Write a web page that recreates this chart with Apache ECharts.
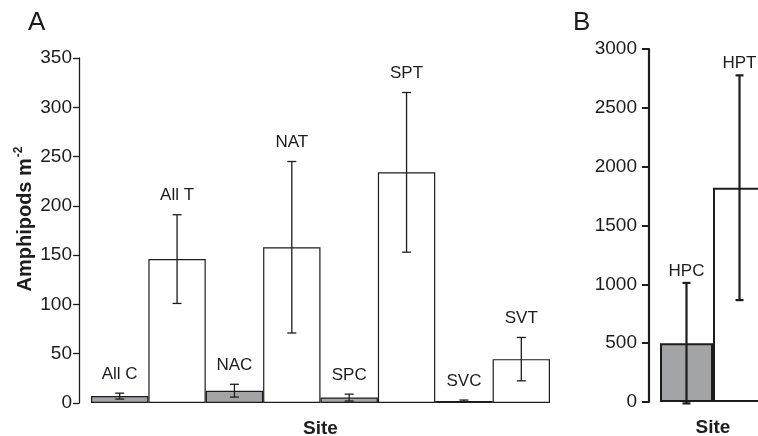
<!DOCTYPE html>
<html>
<head>
<meta charset="utf-8">
<script src="https://cdn.jsdelivr.net/npm/echarts@6/dist/echarts.min.js"></script>
<style>
  html, body { margin: 0; padding: 0; background: #fff; }
  #chart { width: 758px; height: 436px; }
</style>
</head>
<body>
<div id="chart"></div>
<script>
// Panel A: amphipod density by site (C = control, T = treatment)
const sitesA = ['All C', 'All T', 'NAC', 'NAT', 'SPC', 'SPT', 'SVC', 'SVT'];
const meansA = [7, 146, 12.5, 158, 5.5, 234, 2, 44.5];
const errorsA = [3, 45, 6.5, 87, 3.5, 81, 1, 22];
const ticksA = [0, 50, 100, 150, 200, 250, 300, 350];

// Panel B
const sitesB = ['HPC', 'HPT'];
const meansB = [500, 1821];
const errorsB = [512, 955];
const ticksB = [0, 500, 1000, 1500, 2000, 2500, 3000];

const FONT = '"Liberation Sans", Arial, Helvetica, sans-serif';
const INK = '#1c1c1c';
const GREY = '#a2a5a7';

function barItems(sites, means) {
  return means.map((v, i) => ({
    value: v,
    itemStyle: { color: sites[i].endsWith('C') ? GREY : '#ffffff' }
  }));
}

function errorRows(sites, means, errors) {
  return means.map((v, i) => [i, v, errors[i], sites[i]]);
}

function errorRenderer(capHalf, lineW, labelGap) {
  return function (params, api) {
    const x = api.value(0);
    const mean = api.value(1);
    const err = api.value(2);
    const top = api.coord([x, mean + err]);
    const bot = api.coord([x, mean - err]);
    const cx = top[0];
    const style = { stroke: INK, lineWidth: lineW };
    return {
      type: 'group',
      children: [
        { type: 'line', shape: { x1: cx, y1: top[1], x2: cx, y2: bot[1] }, style },
        { type: 'line', shape: { x1: cx - capHalf, y1: top[1], x2: cx + capHalf, y2: top[1] }, style },
        { type: 'line', shape: { x1: cx - capHalf, y1: bot[1], x2: cx + capHalf, y2: bot[1] }, style },
        {
          type: 'text',
          style: {
            x: cx, y: top[1] - labelGap,
            text: api.value(3),
            textAlign: 'center', textVerticalAlign: 'middle',
            font: '17px ' + FONT, fill: INK
          }
        }
      ]
    };
  };
}

const plain = v => String(v);

const chart = echarts.init(document.getElementById('chart'), null, { renderer: 'canvas' });

chart.setOption({
  animation: false,
  backgroundColor: '#ffffff',
  grid: [
    { left: 91, width: 459, top: 58, bottom: 33, outerBoundsMode: 'none', containLabel: false },
    { left: 660, width: 106, top: 49, bottom: 34, outerBoundsMode: 'none', containLabel: false }
  ],
  xAxis: [
    {
      gridIndex: 0, type: 'category', data: sitesA,
      axisLine: { show: false }, axisTick: { show: false }, axisLabel: { show: false },
      name: 'Site', nameLocation: 'middle', nameGap: 16,
      nameTextStyle: { fontFamily: FONT, fontSize: 19, fontWeight: 'bold', color: INK }
    },
    {
      gridIndex: 1, type: 'category', data: sitesB,
      axisLine: { show: false }, axisTick: { show: false }, axisLabel: { show: false },
      name: 'Site', nameLocation: 'middle', nameGap: 16,
      nameTextStyle: { fontFamily: FONT, fontSize: 19, fontWeight: 'bold', color: INK }
    }
  ],
  yAxis: [
    {
      gridIndex: 0, type: 'value', min: ticksA[0], max: ticksA[ticksA.length - 1],
      interval: ticksA[1] - ticksA[0], offset: 12,
      axisLine: { show: true, lineStyle: { color: INK, width: 1.3 } },
      axisTick: { show: true, length: 6, lineStyle: { color: INK, width: 1.3 } },
      axisLabel: { margin: 7, fontFamily: FONT, fontSize: 19, color: INK, formatter: plain },
      splitLine: { show: false }
    },
    {
      gridIndex: 1, type: 'value', min: ticksB[0], max: ticksB[ticksB.length - 1],
      interval: ticksB[1] - ticksB[0], offset: 11,
      axisLine: { show: true, lineStyle: { color: INK, width: 2.2 } },
      axisTick: { show: true, length: 7, lineStyle: { color: INK, width: 2 } },
      axisLabel: { margin: 12, fontFamily: FONT, fontSize: 19, color: INK, formatter: plain },
      splitLine: { show: false }
    }
  ],
  series: [
    {
      type: 'bar', xAxisIndex: 0, yAxisIndex: 0,
      data: barItems(sitesA, meansA),
      barCategoryGap: '0%',
      itemStyle: { borderColor: INK, borderWidth: 1.2 }
    },
    {
      type: 'custom', xAxisIndex: 0, yAxisIndex: 0,
      data: errorRows(sitesA, meansA, errorsA),
      renderItem: errorRenderer(4.5, 1.3, 19),
      z: 5
    },
    {
      type: 'bar', xAxisIndex: 1, yAxisIndex: 1,
      data: barItems(sitesB, meansB),
      barCategoryGap: '0%',
      itemStyle: { borderColor: INK, borderWidth: 2 }
    },
    {
      type: 'custom', xAxisIndex: 1, yAxisIndex: 1,
      data: errorRows(sitesB, meansB, errorsB),
      renderItem: errorRenderer(4, 2.2, 12),
      z: 5
    }
  ],
  graphic: [
    {
      type: 'text', left: 28, top: 10,
      style: { text: 'A', font: '26px ' + FONT, fill: INK }
    },
    {
      type: 'text', left: 573, top: 10,
      style: { text: 'B', font: '26px ' + FONT, fill: INK }
    },
    {
      type: 'text', x: 24, y: 219, rotation: Math.PI / 2,
      style: {
        text: '{b|Amphipods m}{s|-2}',
        textAlign: 'center', textVerticalAlign: 'middle',
        rich: {
          b: { fontFamily: FONT, fontSize: 20, fontWeight: 'bold', fill: INK, lineHeight: 22, verticalAlign: 'bottom' },
          s: { fontFamily: FONT, fontSize: 12, fontWeight: 'bold', fill: INK, lineHeight: 22, verticalAlign: 'top', padding: [0, 0, 10, 1] }
        }
      }
    }
  ]
});
</script>
</body>
</html>
